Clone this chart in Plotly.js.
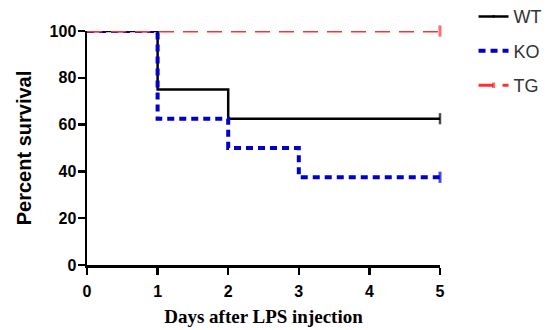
<!DOCTYPE html>
<html><head><meta charset="utf-8">
<script src="https://cdn.plot.ly/plotly-3.0.1.min.js"></script>
<style>html,body{margin:0;padding:0;background:#fff}#chart{width:555px;height:330px}</style>
</head><body><div id="chart"></div>
<script>
const seriesNames = ["WT", "KO", "TG"];
const wtDays = [0, 1, 2, 5];
const wtSurvival = [100, 75, 62.5, 62.5];
const koDays = [0, 1, 2, 3, 5];
const koSurvival = [100, 62.5, 50, 37.5, 37.5];
const tgDays = [0, 5];
const tgSurvival = [100, 100];
const xTicks = [0, 1, 2, 3, 4, 5];
const yTicks = [0, 20, 40, 60, 80, 100];

function censor(arr) { return arr.map((v, i) => i === arr.length - 1 ? 8 : 0); }

const traces = [
  {x: wtDays, y: wtSurvival, name: seriesNames[0], mode: 'lines+markers', line: {shape: 'hv', color: '#000', width: 2.5},
   marker: {symbol: 'line-ns', size: censor(wtDays), line: {width: 2.5, color: '#000'}}, legendgroup: 'a', cliponaxis: false},
  {x: koDays, y: koSurvival, name: seriesNames[1], mode: 'lines+markers', line: {shape: 'hv', color: '#0000cc', width: 4, dash: '7px,5px'},
   marker: {symbol: 'line-ns', size: censor(koDays), line: {width: 3, color: '#0000cc'}}, legendgroup: 'b', cliponaxis: false},
  {x: tgDays, y: tgSurvival, name: seriesNames[2], mode: 'lines+markers', line: {shape: 'hv', color: '#ff3030', width: 3, dash: '15px,9px'},
   marker: {symbol: 'line-ns', size: censor(tgDays), line: {width: 3, color: '#ff3030'}}, legendgroup: 'c', cliponaxis: false}
];

const axisCommon = {showgrid: false, zeroline: false, showline: true, linecolor: '#000', linewidth: 2.5,
  ticks: 'outside', ticklen: 7, tickwidth: 2.5, tickcolor: '#000',
  tickfont: {family: 'Arial, Liberation Sans', size: 16, color: '#000', weight: 'bold'}};

const layout = {
  width: 555, height: 330,
  margin: {l: 87, r: 115, t: 31, b: 65, autoexpand: false},
  paper_bgcolor: '#fff', plot_bgcolor: '#fff',
  showlegend: true,
  legend: {x: 1.095, y: 1.14, xanchor: 'left', yanchor: 'top', traceorder: 'grouped', tracegroupgap: 8,
    font: {family: 'Arial, Liberation Sans', size: 18, color: '#333'}, bgcolor: 'rgba(0,0,0,0)'},
  xaxis: Object.assign({}, axisCommon, {range: [0, 5], tickvals: xTicks, ticktext: xTicks.map(String), ticklabelstandoff: 3,
    title: {text: 'Days after LPS injection', standoff: 11, font: {family: 'Liberation Serif, Times New Roman', size: 19, color: '#000', weight: 'bold'}}}),
  yaxis: Object.assign({}, axisCommon, {range: [0, 100], tickvals: yTicks, ticktext: yTicks.map(String), ticklabelstandoff: -2,
    title: {text: 'Percent survival', standoff: 13, font: {family: 'Arial, Liberation Sans', size: 20, color: '#000', weight: 'bold'}}})
};

Plotly.newPlot('chart', traces, layout, {staticPlot: true, displayModeBar: false});
</script></body></html>
